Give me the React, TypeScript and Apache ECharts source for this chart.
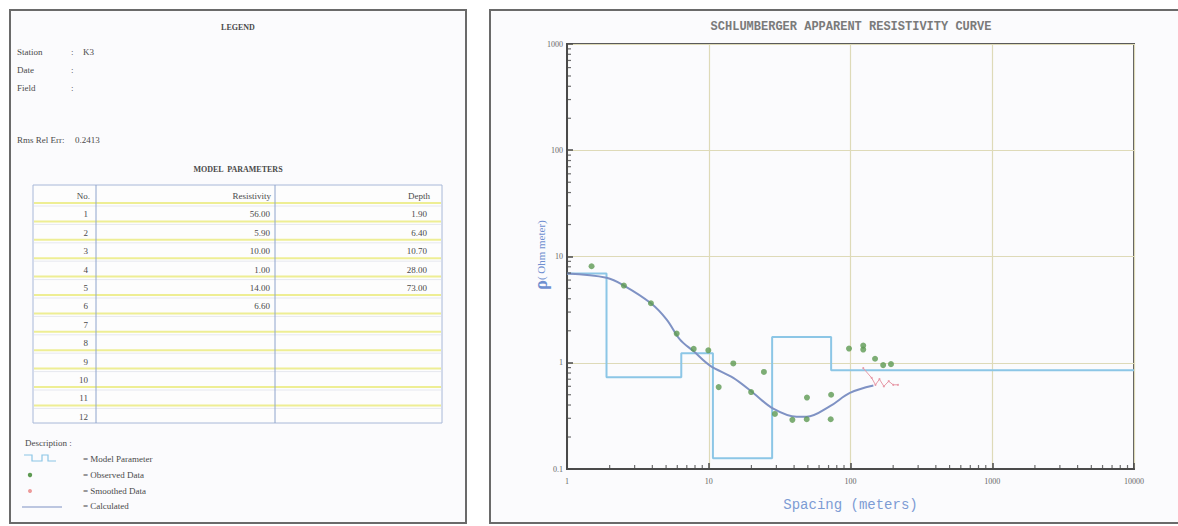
import React, { useEffect, useRef } from "react";
import * as echarts from "echarts";

// ---- data ----
const xTickLabels = ["1", "10", "100", "1000", "10000"];
const yTickLabels = ["0.1", "1", "10", "100", "1000"];

// Model parameters (table)
const layerNo = ["1", "2", "3", "4", "5", "6", "7", "8", "9", "10", "11", "12"];
const resistivityText = ["56.00", "5.90", "10.00", "1.00", "14.00", "6.60"];
const depthText = ["1.90", "6.40", "10.70", "28.00", "73.00"];

// Model step curve as drawn in the plot
const stepDepths = [1.9, 6.4, 10.7, 28, 73];
const stepLevels = [6.9, 0.73, 1.23, 0.126, 1.75, 0.85];

// Observed data
const obsX = [1.49, 2.52, 3.91, 5.94, 7.83, 9.93, 11.75, 14.9, 19.9, 24.5, 29.3, 38.9, 49.1, 49.3, 72.5, 73, 97.6, 123, 123, 149, 170, 193];
const obsY = [8.1, 5.33, 3.63, 1.88, 1.35, 1.31, 0.59, 0.985, 0.53, 0.82, 0.33, 0.29, 0.294, 0.47, 0.294, 0.5, 1.36, 1.45, 1.33, 1.09, 0.95, 0.97];

// Smoothed data
const smX = [123, 141, 150, 160, 172, 186, 200, 216];
const smY = [0.89, 0.72, 0.62, 0.7, 0.6, 0.67, 0.62, 0.62];

// Calculated curve
const calcX = [1, 1.9, 2.52, 3.91, 5.05, 6.27, 7.83, 10.2, 14.9, 20.6, 28.5, 41.7, 49, 71.7, 99, 145];
const calcY = [6.9, 6.3, 5.33, 3.63, 2.55, 1.65, 1.28, 0.94, 0.72, 0.52, 0.37, 0.31, 0.31, 0.39, 0.52, 0.61];

const X_MIN = 1, X_MAX = 10000, Y_MIN = 0.1, Y_MAX = 1000;

export default function App() {
  const ref = useRef<HTMLDivElement>(null);
  useEffect(() => {
    if (!ref.current) return;
    const chart = echarts.init(ref.current, null, { renderer: "svg" });

    const stepData: number[][] = [];
    let x0 = X_MIN;
    stepLevels.forEach((lv, i) => {
      const x1 = i < stepDepths.length ? stepDepths[i] : X_MAX;
      stepData.push([x0, lv]);
      stepData.push([x1, lv]);
      x0 = x1;
    });

    // minor ticks on log axes
    const xMinor: number[][] = [];
    for (let d = 1; d < X_MAX; d *= 10) for (let k = 2; k <= 9; k++) xMinor.push([k * d, Y_MIN]);
    const yMinor: number[][] = [];
    for (let d = 0.1; d < Y_MAX * 0.99; d *= 10) for (let k = 2; k <= 9; k++) yMinor.push([X_MIN, k * d]);

    const serif = "'Liberation Serif', 'DejaVu Serif', serif";
    const txt = "#4a4a4a";
    const graphics: any[] = [];
    // panels
    graphics.push({ type: "rect", shape: { x: 10, y: 10, width: 456, height: 513 }, style: { fill: "#fbfbfd", stroke: "#6a6a6a", lineWidth: 2 }, z: -10 });
    graphics.push({ type: "rect", shape: { x: 490, y: 10, width: 690, height: 513 }, style: { fill: "#fbfbfd", stroke: "#6a6a6a", lineWidth: 2 }, z: -10 });
    const T = (x: number, y: number, text: string, opts: any = {}) =>
      graphics.push({
        type: "text", x, y,
        style: { text, fill: opts.fill || txt, font: `${opts.weight || "normal"} ${opts.size || 9}px ${opts.family || serif}`, textAlign: opts.align || "left", textVerticalAlign: "middle" },
        z: 5,
      });
    T(238, 27, "LEGEND", { align: "center", weight: "bold", size: 8 });
    T(17, 52, "Station");
    T(71, 52, ":");
    T(83, 52, "K3");
    T(17, 70, "Date");
    T(71, 70, ":");
    T(17, 88, "Field");
    T(71, 88, ":");
    T(17, 140, "Rms Rel Err:");
    T(75, 140, "0.2413");
    T(238, 169, "MODEL  PARAMETERS", { align: "center", weight: "bold", size: 8 });

    // table
    const tL = 33, tR = 442, tT = 185, tB = 423, c1 = 96, c2 = 275;
    const rowY = (i: number) => 196 + i * 18.4;
    graphics.push({ type: "rect", shape: { x: tL, y: tT, width: tR - tL, height: tB - tT }, style: { fill: "#fdfdfd", stroke: "#a8b8d8", lineWidth: 1 }, z: 1 });
    for (let i = 0; i < 12; i++) {
      const ly = rowY(i) + 7;
      graphics.push({ type: "line", shape: { x1: tL + 1, y1: ly, x2: tR - 1, y2: ly }, style: { stroke: "#eeee94", lineWidth: 2 }, z: 2 });
      graphics.push({ type: "line", shape: { x1: tL + 1, y1: ly + 3, x2: tR - 1, y2: ly + 3 }, style: { stroke: "#e6e8ef", lineWidth: 1 }, z: 2 });
    }
    graphics.push({ type: "line", shape: { x1: c1, y1: tT, x2: c1, y2: tB }, style: { stroke: "#8ea4cc", lineWidth: 1 }, z: 3 });
    graphics.push({ type: "line", shape: { x1: c2, y1: tT, x2: c2, y2: tB }, style: { stroke: "#8ea4cc", lineWidth: 1 }, z: 3 });
    T(90, rowY(0), "No.", { align: "right" });
    T(271, rowY(0), "Resistivity", { align: "right" });
    T(430, rowY(0), "Depth", { align: "right" });
    layerNo.forEach((n, i) => T(88, rowY(i + 1), n, { align: "right" }));
    resistivityText.forEach((v, i) => T(270, rowY(i + 1), v, { align: "right" }));
    depthText.forEach((v, i) => T(427, rowY(i + 1), v, { align: "right" }));

    // description
    T(25, 443, "Description :");
    graphics.push({ type: "polyline", shape: { points: [[24, 455], [32, 455], [32, 461], [42, 461], [42, 455], [48, 455], [48, 461], [56, 461]] }, style: { stroke: "#8cc6e6", lineWidth: 1.2, fill: null }, z: 5 });
    T(83, 459, "= Model Parameter");
    graphics.push({ type: "circle", shape: { cx: 30, cy: 475, r: 2.2 }, style: { fill: "#5e9a52" }, z: 5 });
    T(83, 475, "= Observed Data");
    graphics.push({ type: "circle", shape: { cx: 30, cy: 491, r: 2 }, style: { fill: "#ec9a9a" }, z: 5 });
    T(83, 491, "= Smoothed Data");
    graphics.push({ type: "line", shape: { x1: 22, y1: 507, x2: 62, y2: 507 }, style: { stroke: "#7f92c4", lineWidth: 1.2 }, z: 5 });
    T(83, 506, "= Calculated");

    // right panel texts
    T(851, 27, "SCHLUMBERGER APPARENT RESISTIVITY CURVE", { align: "center", size: 12, weight: "bold", family: "'Liberation Mono', monospace", fill: "#7a7a7a" });
    graphics.push({
      type: "text", x: 541, y: 255, rotation: Math.PI / 2,
      style: {
        text: "{r|ρ}{s|( Ohm meter)}",
        rich: {
          r: { fontSize: 18, fontWeight: "bold", fill: "#6f8fd0", fontFamily: serif, verticalAlign: "middle" },
          s: { fontSize: 11, fill: "#6f8fd0", fontFamily: serif, verticalAlign: "middle" },
        },
        textAlign: "center", textVerticalAlign: "middle",
      },
      z: 5,
    });

    const axisLine = { lineStyle: { color: "#4a4a4a", width: 2 } };
    chart.setOption({
      animation: false,
      backgroundColor: "transparent",
      grid: { left: 567, right: 44, top: 44, bottom: 57, show: true, borderColor: "#5a5a5a", borderWidth: 2, backgroundColor: "transparent" },
      xAxis: {
        type: "log", logBase: 10, min: X_MIN, max: X_MAX,
        name: "Spacing (meters)", nameLocation: "middle", nameGap: 29,
        nameTextStyle: { fontFamily: "'Liberation Mono', monospace", fontSize: 14, color: "#7d9bd4" },
        axisLine, axisTick: { inside: true, length: 6, lineStyle: { color: "#4a4a4a", width: 1.5 } },
        axisLabel: { fontSize: 8, color: "#666", fontFamily: serif, margin: 8, formatter: (v: number) => xTickLabels[Math.round(Math.log10(v))] ?? "" },
        splitLine: { show: true, lineStyle: { color: "#dedab8", width: 1.2 } },
      },
      yAxis: {
        type: "log", logBase: 10, min: Y_MIN, max: Y_MAX,
        axisLine, axisTick: { inside: true, length: 6, lineStyle: { color: "#4a4a4a", width: 1.5 } },
        axisLabel: { fontSize: 8, color: "#666", fontFamily: serif, margin: 4, formatter: (v: number) => yTickLabels[Math.round(Math.log10(v)) + 1] ?? "" },
        splitLine: { show: true, lineStyle: { color: "#dedab8", width: 1.2 } },
      },
      graphic: graphics,
      series: [
        { type: "scatter", data: xMinor, symbol: "rect", symbolSize: [1.2, 4], symbolOffset: [0, -2], itemStyle: { color: "#4a4a4a" }, silent: true, clip: false, z: 6 },
        { type: "scatter", data: yMinor, symbol: "rect", symbolSize: [4, 1.2], symbolOffset: [2, 0], itemStyle: { color: "#4a4a4a" }, silent: true, clip: false, z: 6 },
        { type: "line", name: "Model Parameter", data: stepData, showSymbol: false, lineStyle: { color: "#8cc6e6", width: 2 }, z: 2 },
        { type: "line", name: "Calculated", data: calcX.map((x, i) => [x, calcY[i]]), smooth: 0.35, showSymbol: false, lineStyle: { color: "#7f92c4", width: 2 }, z: 3 },
        { type: "line", name: "Smoothed Data", data: smX.map((x, i) => [x, smY[i]]), symbol: "circle", symbolSize: 2, showSymbol: true, lineStyle: { color: "#e79aa8", width: 1 }, itemStyle: { color: "#e79aa8" }, z: 4 },
        { type: "scatter", name: "Observed Data", data: obsX.map((x, i) => [x, obsY[i]]), symbol: "circle", symbolSize: 6, itemStyle: { color: "#5e9a52" }, z: 5 },
      ],
    });
    return () => chart.dispose();
  }, []);
  return <div ref={ref} style={{ position: "absolute", left: 0, top: 0, width: 1178, height: 526 }} />;
}
